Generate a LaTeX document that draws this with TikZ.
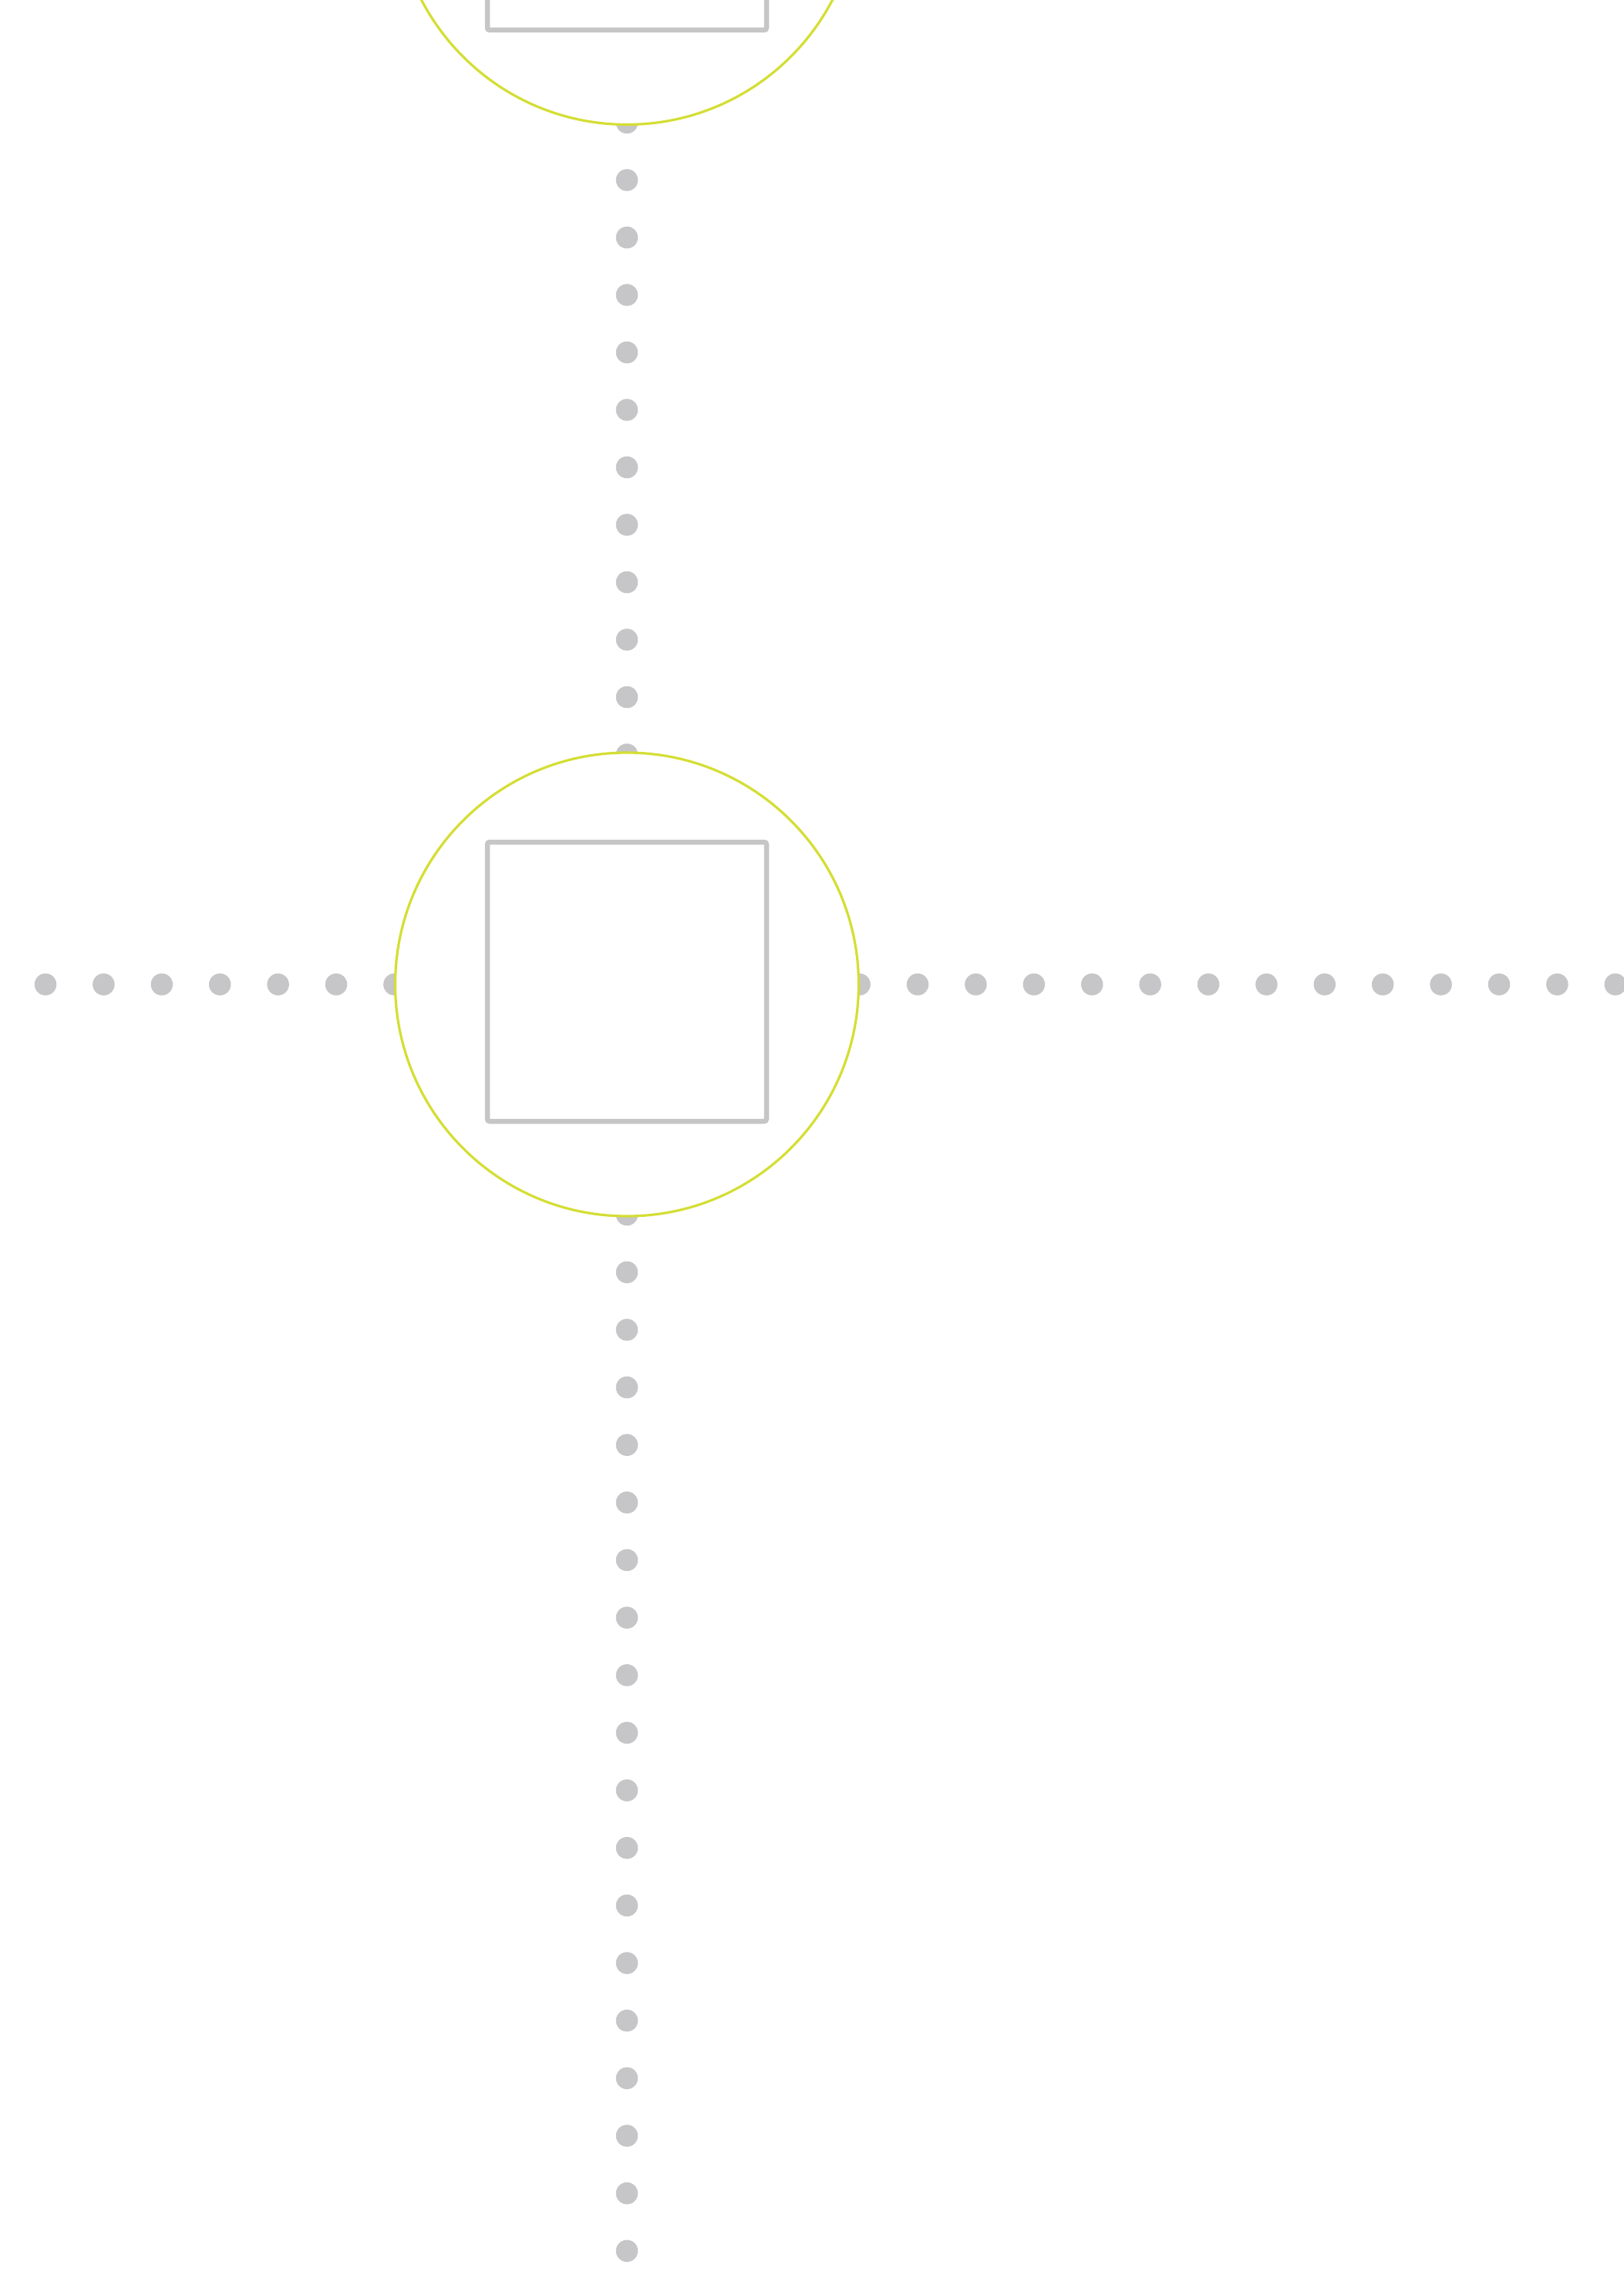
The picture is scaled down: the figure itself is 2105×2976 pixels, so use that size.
\documentclass[tikz,border=0pt]{standalone}
\usetikzlibrary{backgrounds}
\definecolor{ringcol}{RGB}{212,222,52}
\definecolor{dotcol}{RGB}{198,198,200}
\definecolor{boxcol}{RGB}{198,198,198}
\tikzset{
  ring/.style={circle, draw=ringcol, line width=0.32mm, fill=white, minimum size=60.1mm, inner sep=0pt},
  squarebox/.style={rectangle, draw=boxcol, line width=0.65mm, rounded corners=0.3mm, minimum size=36.2mm, inner sep=0pt},
  dotchainv/.style={draw=dotcol, line width=2.85mm, line cap=round, dash pattern=on 0pt off 7.45mm},
  dotchainlow/.style={draw=dotcol, line width=2.85mm, line cap=round, dash pattern=on 0pt off 7.465mm},
  dotchainh/.style={draw=dotcol, line width=2.85mm, line cap=round, dash pattern=on 0pt off 7.54mm}
}
\begin{document}
\begin{tikzpicture}[x=0.1mm,y=-0.1mm]
\useasboundingbox (0,0) rectangle (2105,2976);
\clip (0,0) rectangle (2105,2976);
% rings
\node[ring] (c0) at (813,-139) {};
\node[ring] (c1) at (813,1276.5) {};
% inner squares
\node[squarebox] (s0) at (813,-142) {};
\node[squarebox] (s1) at (813,1273) {};
% free ends of the dotted chains
\coordinate (vb) at (813,2920);
\coordinate (hl) at (59,1276.5);
\coordinate (hr) at (2095,1276.5);
\begin{pgfonlayer}{background}
\draw[dotchainv] (c0.center) -- (c1.center);
\draw[dotchainlow] (c1.center) -- (vb);
\draw[dotchainh] (hl) -- (c1.center) -- (hr);
\end{pgfonlayer}
\end{tikzpicture}
\end{document}
